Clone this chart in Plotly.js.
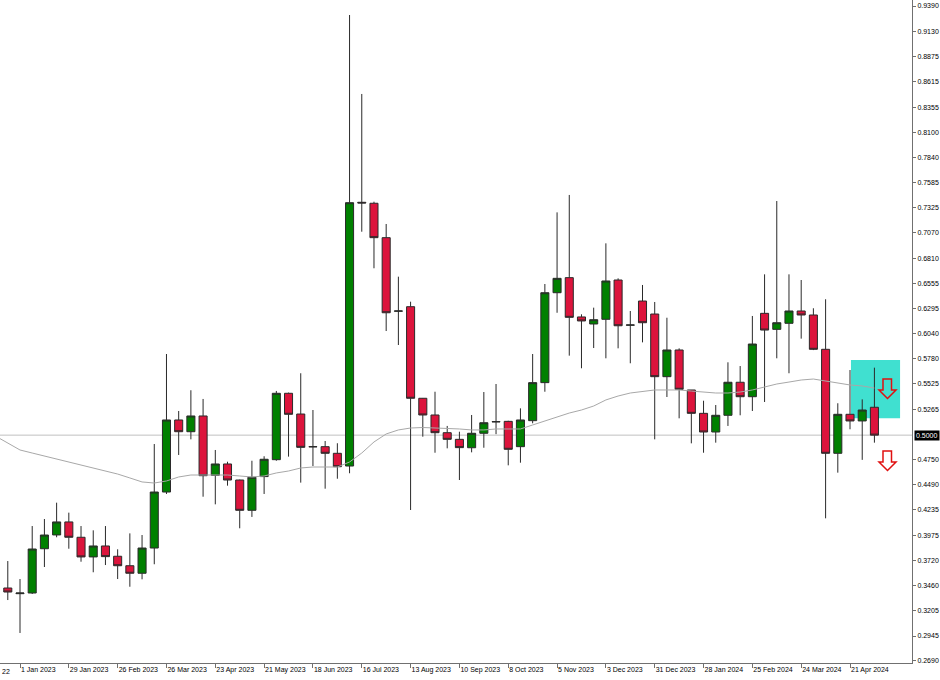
<!DOCTYPE html>
<html>
<head>
<meta charset="utf-8">
<script src="https://cdn.plot.ly/plotly-3.0.1.min.js"></script>
<style>
  html, body { margin: 0; padding: 0; background: #ffffff; }
  #chart { width: 940px; height: 680px; }
</style>
</head>
<body>
<div id="chart"></div>
<script>
// Weekly dates (first one only carries the moving average line to the left edge)
const weeks = [
  '2022-12-18','2022-12-25',
  '2023-01-01','2023-01-08','2023-01-15','2023-01-22','2023-01-29',
  '2023-02-05','2023-02-12','2023-02-19','2023-02-26',
  '2023-03-05','2023-03-12','2023-03-19','2023-03-26',
  '2023-04-02','2023-04-09','2023-04-16','2023-04-23','2023-04-30',
  '2023-05-07','2023-05-14','2023-05-21','2023-05-28',
  '2023-06-04','2023-06-11','2023-06-18','2023-06-25',
  '2023-07-02','2023-07-09','2023-07-16','2023-07-23','2023-07-30',
  '2023-08-06','2023-08-13','2023-08-20','2023-08-27',
  '2023-09-03','2023-09-10','2023-09-17','2023-09-24',
  '2023-10-01','2023-10-08','2023-10-15','2023-10-22','2023-10-29',
  '2023-11-05','2023-11-12','2023-11-19','2023-11-26',
  '2023-12-03','2023-12-10','2023-12-17','2023-12-24','2023-12-31',
  '2024-01-07','2024-01-14','2024-01-21','2024-01-28',
  '2024-02-04','2024-02-11','2024-02-18','2024-02-25',
  '2024-03-03','2024-03-10','2024-03-17','2024-03-24','2024-03-31',
  '2024-04-07','2024-04-14','2024-04-21','2024-04-28',
  '2024-05-05'
];
const candleWeeks = weeks.slice(1);

const openVals = [
  0.3436,0.3378,0.3385,0.3838,0.3979,0.4112,0.3955,0.3754,0.3866,0.3761,
  0.3664,0.3587,0.3845,0.4418,0.5155,0.5035,0.5196,0.4589,0.4705,0.4541,
  0.4231,0.4576,0.4749,0.5428,0.5216,0.4880,0.4882,0.4814,0.4684,0.7382,
  0.7372,0.7020,0.6268,0.6314,0.5377,0.5206,0.5025,0.4957,0.4871,0.5019,
  0.5135,0.5141,0.4882,0.5148,0.5537,0.6457,0.6611,0.6209,0.6137,0.6185,
  0.6587,0.6125,0.6372,0.6239,0.5598,0.5871,0.5462,0.5223,0.5032,0.5203,
  0.5541,0.5393,0.6246,0.6082,0.6144,0.6270,0.6229,0.5878,0.4814,0.5213,
  0.5145,0.5285
];
const highVals = [
  0.3712,0.3528,0.4070,0.4142,0.4309,0.4207,0.4070,0.4026,0.4070,0.3832,
  0.3995,0.3978,0.4909,0.5830,0.5247,0.5459,0.5370,0.4848,0.4728,0.4545,
  0.4738,0.4784,0.5452,0.5435,0.5633,0.5257,0.4940,0.4917,0.9298,0.8490,
  0.7388,0.7160,0.6621,0.6365,0.5380,0.5444,0.5094,0.5035,0.5206,0.5441,
  0.5523,0.5147,0.5274,0.5830,0.6546,0.7279,0.7457,0.6236,0.6304,0.6962,
  0.6604,0.6270,0.6536,0.6362,0.6201,0.5888,0.5462,0.5352,0.5308,0.5745,
  0.5707,0.6219,0.6645,0.7395,0.6645,0.6587,0.6298,0.6390,0.5326,0.5666,
  0.5366,0.5690
];
const lowVals = [
  0.3313,0.2976,0.3375,0.3651,0.3955,0.3838,0.3705,0.3597,0.3671,0.3528,
  0.3449,0.3525,0.3679,0.4398,0.4797,0.4957,0.4370,0.4292,0.4483,0.4047,
  0.4163,0.4398,0.4738,0.4780,0.4514,0.4684,0.4452,0.4554,0.4610,0.7081,
  0.6707,0.6065,0.5922,0.4234,0.4984,0.4820,0.4865,0.4541,0.4824,0.4871,
  0.5010,0.4691,0.4718,0.5121,0.5444,0.6252,0.5813,0.5684,0.5891,0.5786,
  0.5888,0.5735,0.5949,0.4957,0.5390,0.5172,0.4916,0.4820,0.4923,0.5094,
  0.5203,0.5247,0.5339,0.5786,0.5633,0.5987,0.5870,0.4149,0.4616,0.5060,
  0.4747,0.4923
];
const closeVals = [
  0.3395,0.3385,0.3835,0.3978,0.4112,0.3955,0.3754,0.3866,0.3757,0.3664,
  0.3587,0.3845,0.4418,0.5155,0.5035,0.5196,0.4585,0.4705,0.4541,0.4231,
  0.4569,0.4753,0.5428,0.5213,0.4875,0.4882,0.4814,0.4677,0.7378,0.7375,
  0.7020,0.6252,0.6270,0.5377,0.5206,0.5025,0.4957,0.4872,0.5019,0.5127,
  0.5138,0.4855,0.5155,0.5537,0.6457,0.6604,0.6205,0.6168,0.6181,0.6577,
  0.6119,0.6127,0.6150,0.5598,0.5871,0.5469,0.5223,0.5032,0.5203,0.5541,
  0.5393,0.5932,0.6075,0.6150,0.6270,0.6229,0.5878,0.4814,0.5213,0.5145,
  0.5257,0.5000
];
// Moving average (aligned with `weeks`)
const maVals = [
  0.4990,0.4919,0.4848,0.4817,0.4787,0.4756,0.4725,0.4695,0.4664,0.4633,
  0.4602,0.4562,0.4521,0.4510,0.4531,0.4572,0.4592,0.4592,0.4592,0.4592,
  0.4582,0.4572,0.4582,0.4613,0.4633,0.4664,0.4674,0.4674,0.4674,0.4725,
  0.4817,0.4930,0.5012,0.5053,0.5073,0.5078,0.5073,0.5073,0.5063,0.5053,
  0.5053,0.5063,0.5063,0.5063,0.5104,0.5144,0.5185,0.5226,0.5257,0.5298,
  0.5360,0.5400,0.5431,0.5446,0.5462,0.5462,0.5462,0.5451,0.5441,0.5431,
  0.5431,0.5441,0.5462,0.5492,0.5523,0.5543,0.5564,0.5574,0.5553,0.5533,
  0.5513,0.5503,0.5482
];

const currentPrice = 0.5000;

const xTickDates = ['2023-01-01','2023-01-29','2023-02-26','2023-03-26','2023-04-23','2023-05-21',
  '2023-06-18','2023-07-16','2023-08-13','2023-09-10','2023-10-08','2023-11-05','2023-12-03',
  '2023-12-31','2024-01-28','2024-02-25','2024-03-24','2024-04-21'];
const xTickLabels = ['1 Jan 2023','29 Jan 2023','26 Feb 2023','26 Mar 2023','23 Apr 2023','21 May 2023',
  '18 Jun 2023','16 Jul 2023','13 Aug 2023','10 Sep 2023','8 Oct 2023','5 Nov 2023','3 Dec 2023',
  '31 Dec 2023','28 Jan 2024','25 Feb 2024','24 Mar 2024','21 Apr 2024'];
const yTickVals = [0.9390,0.9130,0.8875,0.8615,0.8355,0.8100,0.7840,0.7585,0.7325,0.7070,0.6810,
  0.6555,0.6295,0.6040,0.5780,0.5525,0.5265,0.4750,0.4490,0.4235,0.3975,0.3720,0.3460,0.3205,
  0.2945,0.2690];
const yTickLabels = yTickVals.map(v => v.toFixed(4));

// Highlight zone (turquoise box)
const zoneX = ['2024-04-21 13:00', '2024-05-19 17:00'];
const zoneY = [0.5172, 0.5769];

const FONT = "'Liberation Sans', Arial, sans-serif";
const FS = 7;
const W = 912, H = 663;
function pathPx(pts) {
  return 'M ' + pts.map(p => (p[0] / W).toFixed(5) + ',' + (1 - p[1] / H).toFixed(5)).join(' L ') + ' Z';
}
function downArrow(cx, top) {
  return pathPx([[cx-4.5, top],[cx+4, top],[cx+4, top+11],[cx+8.5, top+11],[cx, top+19.5],
                 [cx-8.5, top+11],[cx-4.5, top+11]]);
}

const traces = [
  {
    type: 'scatter', mode: 'lines', x: weeks, y: maVals,
    line: { color: '#a8a8a8', width: 1 }, hoverinfo: 'skip'
  },
  {
    type: 'candlestick', x: candleWeeks,
    open: openVals, high: highVals, low: lowVals, close: closeVals,
    increasing: { fillcolor: '#008000', line: { color: '#2a2a2a', width: 1 } },
    decreasing: { fillcolor: '#DC143C', line: { color: '#2a2a2a', width: 1 } },
    whiskerwidth: 0, hoverinfo: 'skip'
  }
];

const layout = {
  width: 940, height: 680,
  margin: { l: 0, r: 28, t: 0, b: 17, pad: 0 },
  paper_bgcolor: '#ffffff', plot_bgcolor: '#ffffff',
  showlegend: false,
  boxgap: 0.34, boxgroupgap: 0,
  font: { family: FONT, size: FS, color: '#000000' },
  xaxis: {
    type: 'date',
    range: ['2022-12-20 12:44', '2024-05-26 13:12'],
    rangeslider: { visible: false },
    tickmode: 'array', tickvals: xTickDates, ticktext: xTickLabels,
    tickangle: 0, automargin: false,
    ticks: 'outside', ticklen: 4, tickcolor: '#707070', tickwidth: 1,
    ticklabelposition: 'outside right',
    showline: true, linecolor: '#707070', linewidth: 1,
    showgrid: false, zeroline: false, fixedrange: true,
    tickfont: { family: FONT, size: FS, color: '#000000' }
  },
  yaxis: {
    side: 'right', automargin: false,
    range: [0.26689, 0.94514],
    tickmode: 'array', tickvals: yTickVals, ticktext: yTickLabels,
    ticks: 'outside', ticklen: 3, tickcolor: '#707070', tickwidth: 1,
    showline: true, linecolor: '#707070', linewidth: 1,
    showgrid: false, zeroline: false, fixedrange: true,
    tickfont: { family: FONT, size: FS, color: '#000000' }
  },
  shapes: [
    { type: 'line', xref: 'paper', x0: 0, x1: 1, yref: 'y', y0: currentPrice, y1: currentPrice,
      line: { color: '#c0c0c0', width: 1 }, layer: 'below' },
    { type: 'rect', xref: 'x', yref: 'y', x0: zoneX[0], x1: zoneX[1], y0: zoneY[0], y1: zoneY[1],
      fillcolor: '#40E0D0', line: { width: 0 }, layer: 'below' },
    { type: 'path', xref: 'paper', yref: 'paper', path: downArrow(887.5, 379),
      line: { color: '#e01010', width: 1.5 }, fillcolor: 'rgba(0,0,0,0)' },
    { type: 'path', xref: 'paper', yref: 'paper', path: downArrow(887.5, 451),
      line: { color: '#e01010', width: 1.5 }, fillcolor: 'rgba(255,255,255,0)' }
  ],
  annotations: [
    { xref: 'paper', x: 1, xanchor: 'left', xshift: 2, yref: 'y', y: currentPrice, yanchor: 'middle',
      text: currentPrice.toFixed(4), showarrow: false, bgcolor: '#000000', borderpad: 1,
      font: { family: FONT, size: FS, color: '#ffffff' } },
    { xref: 'paper', x: 0, xanchor: 'left', yref: 'paper', y: 0, yanchor: 'top', yshift: -3,
      text: '22', showarrow: false, font: { family: FONT, size: FS, color: '#000000' } }
  ]
};

Plotly.newPlot('chart', traces, layout, { staticPlot: true, displayModeBar: false });
</script>
</body>
</html>
